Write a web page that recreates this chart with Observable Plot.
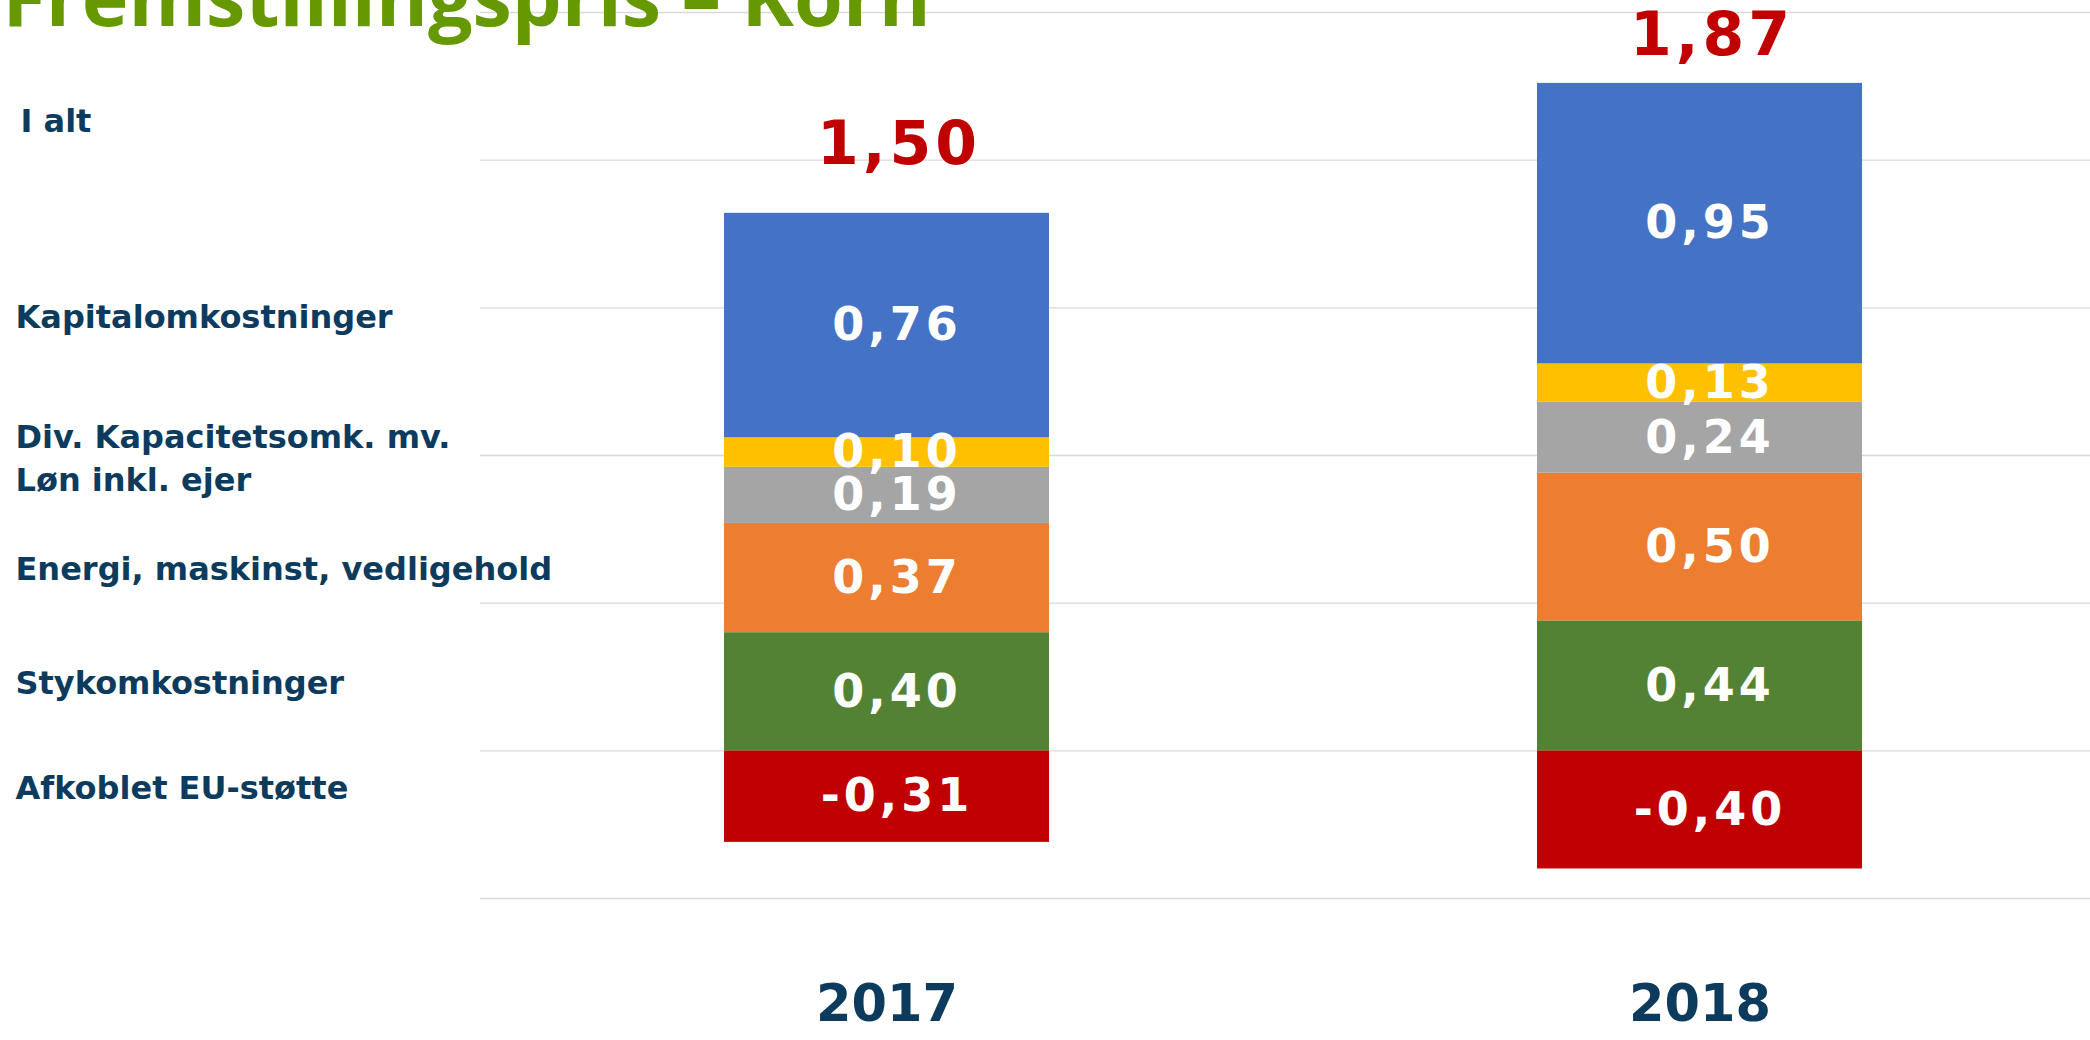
<!DOCTYPE html>
<html><head><meta charset="utf-8">
<script src="https://cdn.jsdelivr.net/npm/d3@7"></script>
<script src="https://cdn.jsdelivr.net/npm/@observablehq/plot@0.6"></script>
<style>
body{margin:0;background:#fff;overflow:hidden;}
g[aria-label="text"][fill="white"] text { letter-spacing: 4px; }
g[aria-label="text"][fill="#C00000"] text { letter-spacing: 4px; }
</style>
</head><body><div id="chart"></div>
<script>
const title = "Fremstillingspris – Korn";
const years = ["2017", "2018"];
const categories = ["Afkoblet EU-støtte", "Stykomkostninger", "Energi, maskinst, vedligehold", "Løn inkl. ejer", "Div. Kapacitetsomk. mv.", "Kapitalomkostninger"];
const values2017 = [-0.31, 0.40, 0.37, 0.19, 0.10, 0.76];
const values2018 = [-0.40, 0.44, 0.50, 0.24, 0.13, 0.95];
const totals = [1.50, 1.87];
const totalLabel = "I alt";
const colors = ["#C00000", "#548235", "#ED7D31", "#A5A5A5", "#FFC000", "#4472C4"];
const gridTicks = [-0.5, 0, 0.5, 1, 1.5, 2, 2.5];

const seriesByYear = [values2017, values2018];
const rows = [];
years.forEach((yr, j) => categories.forEach((c, i) => rows.push({year: yr, category: c, value: seriesByYear[j][i]})));
const totalRows = years.map((yr, i) => ({year: yr, total: totals[i]}));
const fmt = v => v.toFixed(2).replace(".", ",");

// legend labels aligned with the 2017 stack segments
let pos = 0, neg = 0;
const legendRows = categories.map((c, i) => {
  const v = values2017[i];
  let mid;
  if (v >= 0) { mid = pos + v / 2; pos += v; } else { mid = neg + v / 2; neg += v; }
  return {category: c, y: mid};
});
const tightPair = new Set([categories[3], categories[4]]);

const navy = "#0c3b5e";
const chart = Plot.plot({
  width: 2090, height: 1040,
  marginLeft: 480, marginRight: 0, marginTop: 12, marginBottom: 142,
  style: {fontFamily: "'DejaVu Sans', sans-serif", fontWeight: "bold", background: "white"},
  x: {domain: years, range: [480, 2106], paddingInner: 0.6, paddingOuter: 0.3, label: null},
  y: {domain: [-0.5, 2.5], axis: null, label: null},
  color: {domain: categories, range: colors},
  marks: [
    Plot.gridY(gridTicks, {stroke: "#d9d9d9", strokeOpacity: 1, strokeWidth: 1.3}),
    Plot.barY(rows, {x: "year", y: "value", fill: "category"}),
    Plot.text(rows, Plot.stackY({x: "year", y: "value", text: d => fmt(d.value), fill: "white", fontSize: 46, dx: 10})),
    Plot.text(totalRows, {x: "year", y: "total", text: d => fmt(d.total), fill: "#C00000", fontSize: 60, dx: 12, dy: -163}),
    Plot.axisX({tickSize: 0, tickPadding: 86, fontSize: 51, color: navy, label: null}),
    Plot.text(legendRows.filter(d => !tightPair.has(d.category)), {y: "y", text: "category", frameAnchor: "left", textAnchor: "start", dx: -465, dy: -8, fill: navy, fontSize: 32}),
    Plot.text(legendRows.filter(d => tightPair.has(d.category)), {y: "y", text: "category", frameAnchor: "left", textAnchor: "start", dx: -465, dy: -15, fill: navy, fontSize: 32}),
    Plot.text([{label: totalLabel, y: totals[0]}], {y: "y", text: "label", frameAnchor: "left", textAnchor: "start", dx: -460, dy: -186, fill: navy, fontSize: 32}),
    Plot.text([title], {text: d => d, frameAnchor: "top-left", textAnchor: "start", lineAnchor: "bottom", dx: -478, dy: 13, fontSize: 79, fontFamily: "'Open Sans', sans-serif", fontWeight: "bold", fill: "#669900"})
  ]
});
document.getElementById("chart").appendChild(chart);
</script>
</body></html>
